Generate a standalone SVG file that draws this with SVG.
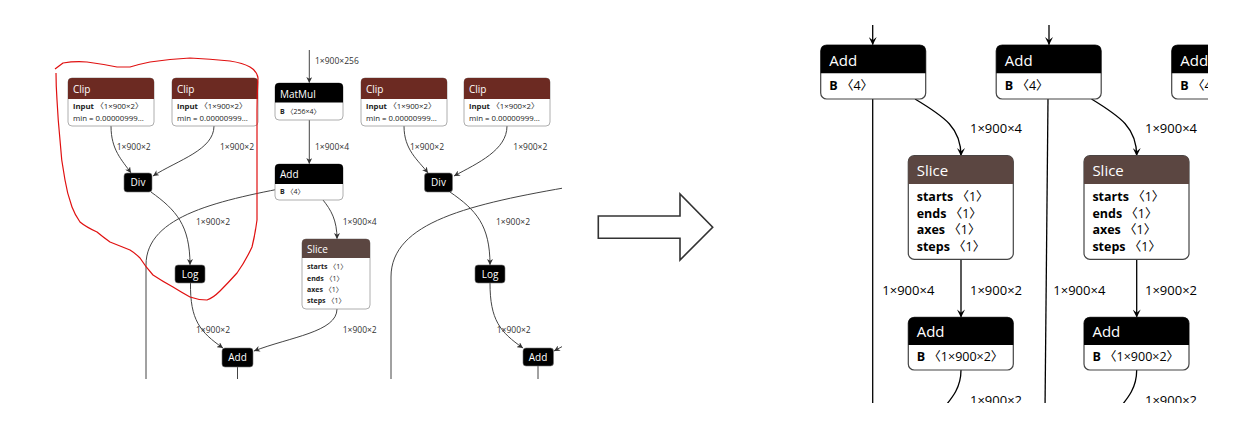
<svg xmlns="http://www.w3.org/2000/svg" width="1233" height="429" viewBox="0 0 1233 429">
<style>
text{font-family:"Open Sans","Noto Sans CJK SC","DejaVu Sans",sans-serif}
.sm{font-size:7px;fill:#222}
.cr{font-size:7.8px}
.smb{font-weight:bold}
.hd{font-size:10px;fill:#fff}
.el{font-size:8.5px;fill:#333}
.e{fill:none;stroke:#444;stroke-width:1}
.ea{fill:none;stroke:#444;stroke-width:1;marker-end:url(#ah)}
.box{fill:#fff;stroke:#999;stroke-width:0.8}
.blk{fill:#000;stroke:#777;stroke-width:0.6}
.clip{fill:#6c2a22}
.slice{fill:#5b4641}
.rbox{fill:#fff;stroke:#444;stroke-width:1.2}
.rhd{font-size:15px;fill:#fff}
.rat{font-size:12.5px;fill:#000}
.rel{font-size:13px;fill:#000}
.re{fill:none;stroke:#000;stroke-width:1.3}
.rea{fill:none;stroke:#000;stroke-width:1.3;marker-end:url(#rah)}
</style>
<defs>
<marker id="ah" viewBox="0 0 10 10" refX="10" refY="5" markerWidth="6" markerHeight="6" orient="auto" markerUnits="userSpaceOnUse">
<path d="M0,0 L10,5 L0,10 L3,5 Z" fill="#333"/>
</marker>
<marker id="rah" viewBox="0 0 10 10" refX="10" refY="5" markerWidth="9" markerHeight="8" orient="auto" markerUnits="userSpaceOnUse">
<path d="M0,0 L10,5 L0,10 L4,5 Z" fill="#000"/>
</marker>
<clipPath id="lclip"><rect x="40" y="40" width="522" height="339"/></clipPath>
<clipPath id="rclip"><rect x="780" y="0" width="428" height="403"/></clipPath>
</defs>
<rect width="1233" height="429" fill="#fff"/>

<g clip-path="url(#lclip)">
<g id="left-connectors">
<path class="e" d="M300,185 C220,200 146,215 146,265 L146,385"/>
<path class="e" d="M575,186 C470,204 391,222 391,277 L391,385"/>
<path class="ea" d="M309.3,50 L309.3,83"/>
<path class="ea" d="M309.3,120 L309.3,164"/>
<path class="ea" d="M111,126 C111,150 122,160 131,173"/>
<path class="ea" d="M214,126 C214,150 178,160 153,176"/>
<path class="ea" d="M404,126 C404,150 418,160 428,173"/>
<path class="ea" d="M507,126 C507,150 478,163 454,176"/>
<path class="ea" d="M151,192 C176,210 190,225 190,265"/>
<path class="ea" d="M450,192 C476,210 490,225 490,265"/>
<path class="ea" d="M190.5,283 C190,320 200,332 223,348"/>
<path class="ea" d="M490,283 C490,320 500,332 523,348"/>
<path class="ea" d="M323,200 C331,210 337,220 337,239"/>
<path class="ea" d="M337,309 C337,332 290,337 254,351"/>
<path class="e" d="M237.5,367 L237.5,385"/>
<path class="e" d="M538,366 L538,385"/>
<path class="ea" d="M565,345 L554,351"/>
<text class="el" x="315" y="63.7">1×900×256</text>
<text class="el" x="315" y="149.7">1×900×4</text>
<text class="el" x="116.7" y="149.7">1×900×2</text>
<text class="el" x="220" y="149.7">1×900×2</text>
<text class="el" x="410" y="149.7">1×900×2</text>
<text class="el" x="513.3" y="149.7">1×900×2</text>
<text class="el" x="196" y="224.7">1×900×2</text>
<text class="el" x="496" y="224.7">1×900×2</text>
<text class="el" x="342.7" y="224.7">1×900×4</text>
<text class="el" x="196" y="333">1×900×2</text>
<text class="el" x="496.7" y="333">1×900×2</text>
<text class="el" x="342.7" y="333">1×900×2</text>
</g>

<g id="clip1" transform="translate(68,78)">
<rect class="box" x="0" y="0" width="86" height="48" rx="4"/>
<path class="clip" d="M0,21 L0,4 Q0,0 4,0 L82,0 Q86,0 86,4 L86,21 Z"/>
<text class="hd" x="5" y="14.5">Clip</text>
<text class="sm cr" x="5" y="30.5"><tspan class="smb">input</tspan> 〈1×900×2〉</text>
<text class="sm cr" x="5" y="42.8">min = 0.00000999...</text>
</g>
<g id="clip2" transform="translate(172,78)">
<rect class="box" x="0" y="0" width="86" height="48" rx="4"/>
<path class="clip" d="M0,21 L0,4 Q0,0 4,0 L82,0 Q86,0 86,4 L86,21 Z"/>
<text class="hd" x="5" y="14.5">Clip</text>
<text class="sm cr" x="5" y="30.5"><tspan class="smb">input</tspan> 〈1×900×2〉</text>
<text class="sm cr" x="5" y="42.8">min = 0.00000999...</text>
</g>
<g id="clip3" transform="translate(361,78)">
<rect class="box" x="0" y="0" width="86" height="48" rx="4"/>
<path class="clip" d="M0,21 L0,4 Q0,0 4,0 L82,0 Q86,0 86,4 L86,21 Z"/>
<text class="hd" x="5" y="14.5">Clip</text>
<text class="sm cr" x="5" y="30.5"><tspan class="smb">input</tspan> 〈1×900×2〉</text>
<text class="sm cr" x="5" y="42.8">min = 0.00000999...</text>
</g>
<g id="clip4" transform="translate(464,78)">
<rect class="box" x="0" y="0" width="86" height="48" rx="4"/>
<path class="clip" d="M0,21 L0,4 Q0,0 4,0 L82,0 Q86,0 86,4 L86,21 Z"/>
<text class="hd" x="5" y="14.5">Clip</text>
<text class="sm cr" x="5" y="30.5"><tspan class="smb">input</tspan> 〈1×900×2〉</text>
<text class="sm cr" x="5" y="42.8">min = 0.00000999...</text>
</g>
<g id="matmul" transform="translate(275,83)">
<rect class="box" x="0" y="0" width="68" height="37" rx="4"/>
<path fill="#000" d="M0,19.5 L0,4 Q0,0 4,0 L64,0 Q68,0 68,4 L68,19.5 Z"/>
<text class="hd" x="5" y="14.5">MatMul</text>
<text class="sm" x="5" y="30.5"><tspan class="smb">B</tspan> 〈256×4〉</text>
</g>
<g id="add-l" transform="translate(275,164)">
<rect class="box" x="0" y="0" width="68" height="36" rx="4"/>
<path fill="#000" d="M0,20 L0,4 Q0,0 4,0 L64,0 Q68,0 68,4 L68,20 Z"/>
<text class="hd" x="5" y="13.5">Add</text>
<text class="sm" x="5" y="29.5"><tspan class="smb">B</tspan> 〈4〉</text>
</g>
<g id="slice-l" transform="translate(302,239)">
<rect class="box" x="0" y="0" width="68" height="70" rx="4"/>
<path class="slice" d="M0,19 L0,4 Q0,0 4,0 L64,0 Q68,0 68,4 L68,19 Z"/>
<text class="hd" x="5" y="13.8">Slice</text>
<text class="sm" x="5" y="30.2"><tspan class="smb">starts</tspan> 〈1〉</text>
<text class="sm" x="5" y="41.8"><tspan class="smb">ends</tspan> 〈1〉</text>
<text class="sm" x="5" y="52.5"><tspan class="smb">axes</tspan> 〈1〉</text>
<text class="sm" x="5" y="63.5"><tspan class="smb">steps</tspan> 〈1〉</text>
</g>
<g id="div1"><rect class="blk" x="124" y="173" width="28" height="19" rx="3"/><text class="hd" x="138" y="186" text-anchor="middle" font-size="9.5">Div</text></g>
<g id="div2"><rect class="blk" x="424.5" y="173" width="28" height="19" rx="3"/><text class="hd" x="438.5" y="186" text-anchor="middle" font-size="9.5">Div</text></g>
<g id="log1"><rect class="blk" x="175" y="265" width="30" height="18" rx="3"/><text class="hd" x="190" y="277.5" text-anchor="middle" font-size="9.5">Log</text></g>
<g id="log2"><rect class="blk" x="475" y="265" width="30" height="18" rx="3"/><text class="hd" x="490" y="277.5" text-anchor="middle" font-size="9.5">Log</text></g>
<g id="add-b1"><rect class="blk" x="222" y="348" width="31" height="19" rx="3"/><text class="hd" x="237.5" y="361" text-anchor="middle" font-size="9.5">Add</text></g>
<g id="add-b2"><rect class="blk" x="523" y="348" width="30.5" height="18" rx="3"/><text class="hd" x="538" y="360.5" text-anchor="middle" font-size="9.5">Add</text></g>
</g>

<g id="highlight">
<path fill="none" stroke="#e01010" stroke-width="1.2" stroke-linejoin="round" d="M55,69 L63,63 Q75,61 87,62 Q102,64 117,67 L130,67 Q140,64 150,62 Q170,59 190,58 Q210,59 230,61 Q243,63 250,67 Q257,71 258,78 Q257,95 257,110 L257,190 Q257,205 257,220 Q255,235 252,247 Q245,262 237,273 Q228,283 220,291 Q213,298 207,300 Q198,300 190,297 Q181,292 173,287 Q162,281 153,275 Q145,266 140,258 Q135,253 130,250 Q120,246 110,242 Q103,237 97,232 Q86,227 80,222 Q75,215 72,207 Q67,193 65,180 Q61,160 60,140 Q58,120 57,100 Q56,85 56,73"/>
</g>

<g id="big-arrow">
<path d="M598.3,216 L680,216 L680,194 L712.7,227.3 L680,260 L680,238.3 L598.3,238.3 Z" fill="#fff" stroke="#333" stroke-width="1.6"/>
</g>

<g clip-path="url(#rclip)">
<g id="right-connectors">
<path class="rea" d="M872.7,25 L872.7,45"/>
<path class="rea" d="M1049,25 L1049,45"/>
<path class="re" d="M872.7,99 L872.7,410"/>
<path class="re" d="M1048,99 L1045,410"/>
<path class="rea" d="M915,99 C945,117 961,128 961,156"/>
<path class="rea" d="M1091.5,99 C1121,117 1136.7,128 1136.7,156"/>
<path class="rea" d="M961,259 L961,317.5"/>
<path class="rea" d="M1136.7,259 L1136.7,317.5"/>
<path class="re" d="M961,370 C961,388 952,398 942,410"/>
<path class="re" d="M1136.7,370 C1136.7,388 1128,398 1118,410"/>
<text class="rel" x="970" y="132.7">1×900×4</text>
<text class="rel" x="1145" y="132.7">1×900×4</text>
<text class="rel" x="882.3" y="294.5">1×900×4</text>
<text class="rel" x="970" y="294.5">1×900×2</text>
<text class="rel" x="1053.3" y="294.5">1×900×4</text>
<text class="rel" x="1145" y="294.5">1×900×2</text>
<text class="rel" x="970" y="404.5">1×900×2</text>
<text class="rel" x="1145" y="404.5">1×900×2</text>
</g>

<g id="r-add1" transform="translate(820.7,45)">
<rect class="rbox" x="0" y="0" width="105" height="54" rx="6"/>
<path fill="#000" d="M0,28.3 L0,6 Q0,0 6,0 L99,0 Q105,0 105,6 L105,28.3 Z"/>
<text class="rhd" x="8.6" y="20.5">Add</text>
<text class="rat" x="8.6" y="45"><tspan font-weight="bold">B</tspan> 〈4〉</text>
</g>
<g id="r-add2" transform="translate(996.2,45)">
<rect class="rbox" x="0" y="0" width="105" height="54" rx="6"/>
<path fill="#000" d="M0,28.3 L0,6 Q0,0 6,0 L99,0 Q105,0 105,6 L105,28.3 Z"/>
<text class="rhd" x="8.6" y="20.5">Add</text>
<text class="rat" x="8.6" y="45"><tspan font-weight="bold">B</tspan> 〈4〉</text>
</g>
<g id="r-add3" transform="translate(1171.7,45)">
<rect class="rbox" x="0" y="0" width="105" height="54" rx="6"/>
<path fill="#000" d="M0,28.3 L0,6 Q0,0 6,0 L99,0 Q105,0 105,6 L105,28.3 Z"/>
<text class="rhd" x="8.6" y="20.5">Add</text>
<text class="rat" x="8.6" y="45"><tspan font-weight="bold">B</tspan> 〈4〉</text>
</g>
<g id="r-slice1" transform="translate(908.3,155.7)">
<rect class="rbox" x="0" y="0" width="105" height="103.6" rx="6"/>
<path class="slice" d="M0,28.3 L0,6 Q0,0 6,0 L99,0 Q105,0 105,6 L105,28.3 Z"/>
<text class="rhd" x="8.4" y="20.3">Slice</text>
<text class="rat" x="8.4" y="45.3"><tspan font-weight="bold">starts</tspan> 〈1〉</text>
<text class="rat" x="8.4" y="62"><tspan font-weight="bold">ends</tspan> 〈1〉</text>
<text class="rat" x="8.4" y="78.7"><tspan font-weight="bold">axes</tspan> 〈1〉</text>
<text class="rat" x="8.4" y="95.3"><tspan font-weight="bold">steps</tspan> 〈1〉</text>
</g>
<g id="r-slice2" transform="translate(1084,155.7)">
<rect class="rbox" x="0" y="0" width="105" height="103.6" rx="6"/>
<path class="slice" d="M0,28.3 L0,6 Q0,0 6,0 L99,0 Q105,0 105,6 L105,28.3 Z"/>
<text class="rhd" x="8.4" y="20.3">Slice</text>
<text class="rat" x="8.4" y="45.3"><tspan font-weight="bold">starts</tspan> 〈1〉</text>
<text class="rat" x="8.4" y="62"><tspan font-weight="bold">ends</tspan> 〈1〉</text>
<text class="rat" x="8.4" y="78.7"><tspan font-weight="bold">axes</tspan> 〈1〉</text>
<text class="rat" x="8.4" y="95.3"><tspan font-weight="bold">steps</tspan> 〈1〉</text>
</g>
<g id="r-add4" transform="translate(908.3,317.3)">
<rect class="rbox" x="0" y="0" width="105" height="52.7" rx="6"/>
<path fill="#000" d="M0,27.7 L0,6 Q0,0 6,0 L99,0 Q105,0 105,6 L105,27.7 Z"/>
<text class="rhd" x="8.4" y="19.8">Add</text>
<text class="rat" x="8.4" y="44"><tspan font-weight="bold">B</tspan> 〈1×900×2〉</text>
</g>
<g id="r-add5" transform="translate(1084,317.3)">
<rect class="rbox" x="0" y="0" width="105" height="52.7" rx="6"/>
<path fill="#000" d="M0,27.7 L0,6 Q0,0 6,0 L99,0 Q105,0 105,6 L105,27.7 Z"/>
<text class="rhd" x="8.4" y="19.8">Add</text>
<text class="rat" x="8.4" y="44"><tspan font-weight="bold">B</tspan> 〈1×900×2〉</text>
</g>
</g>
</svg>
